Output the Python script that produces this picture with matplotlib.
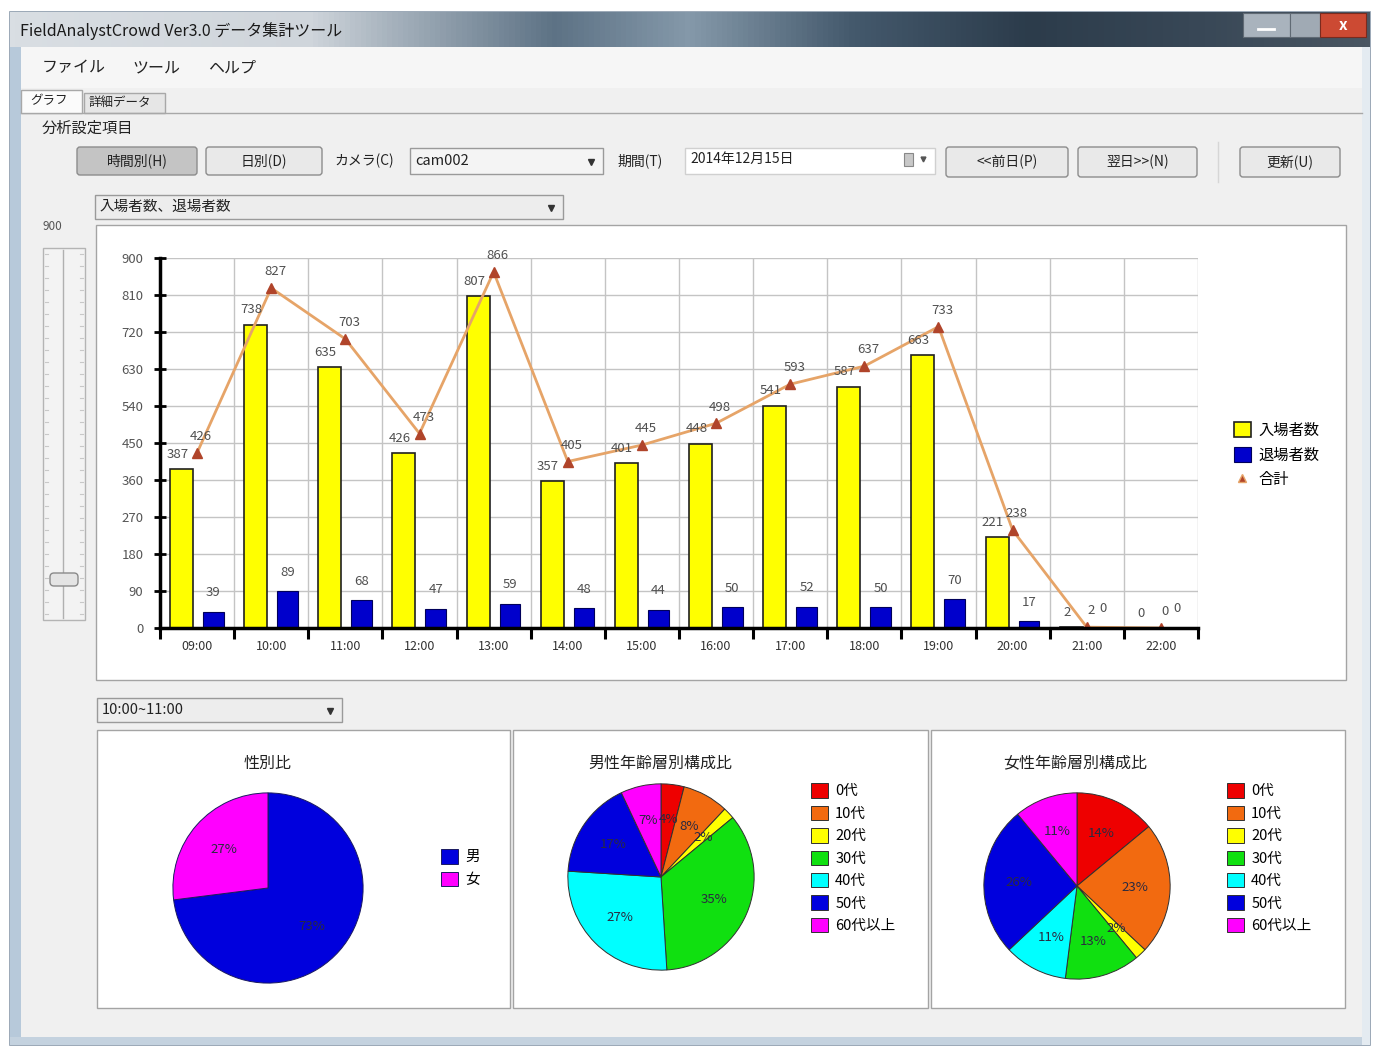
import numpy as np
import matplotlib.pyplot as plt
from matplotlib.patches import Rectangle, FancyBboxPatch
from matplotlib.lines import Line2D
from matplotlib.colors import LinearSegmentedColormap

plt.rcParams['font.family'] = ['Noto Sans CJK JP', 'DejaVu Sans']

# --- data ---
hours = ['09:00', '10:00', '11:00', '12:00', '13:00', '14:00', '15:00',
         '16:00', '17:00', '18:00', '19:00', '20:00', '21:00', '22:00']
entries = [387, 738, 635, 426, 807, 357, 401, 448, 541, 587, 663, 221, 2, 0]
exits = [39, 89, 68, 47, 59, 48, 44, 50, 52, 50, 70, 17, 0, 0]
totals = [426, 827, 703, 473, 866, 405, 445, 498, 593, 637, 733, 238, 2, 0]
y_ticks = [0, 90, 180, 270, 360, 450, 540, 630, 720, 810, 900]

gender_labels = ['男', '女']
gender_share = [73, 27]
gender_colors = ['#0000dd', '#ff00ff']

age_labels = ['0代', '10代', '20代', '30代', '40代', '50代', '60代以上']
male_age_share = [4, 8, 2, 35, 27, 17, 7]
female_age_share = [14, 23, 2, 13, 11, 26, 11]
age_colors = ['#ee0000', '#f26a10', '#ffff00', '#10e010', '#00ffff', '#0000dd', '#ff00ff']

W, H = 1377, 1047
fig = plt.figure(figsize=(W / 100, H / 100), dpi=100)
fig.patch.set_facecolor('white')

bg = fig.add_axes([0, 0, 1, 1])
bg.set_xlim(0, W)
bg.set_ylim(H, 0)
bg.axis('off')


def px_axes(x0, y0, x1, y1):
    return fig.add_axes([x0 / W, 1 - y1 / H, (x1 - x0) / W, (y1 - y0) / H])


def box(x0, y0, x1, y1, fc, ec, lw=1.0, z=1):
    bg.add_patch(Rectangle((x0, y0), x1 - x0, y1 - y0, facecolor=fc,
                           edgecolor=ec, linewidth=lw, zorder=z))


def button(x0, y0, x1, y1, text, fc='#e9e9e9'):
    bg.add_patch(FancyBboxPatch((x0, y0), x1 - x0, y1 - y0,
                                boxstyle='round,pad=0,rounding_size=3',
                                facecolor=fc, edgecolor='#8c8c8c', lw=1, zorder=2))
    bg.text((x0 + x1) / 2, (y0 + y1) / 2, text, fontsize=10, color='#222',
            ha='center', va='center', zorder=3)


def combo(x0, y0, x1, y1, text, fc='#ededed'):
    box(x0, y0, x1, y1, fc, '#9a9a9a', 1, 2)
    bg.text(x0 + 5, (y0 + y1) / 2, text, fontsize=10.5, color='#222',
            ha='left', va='center', zorder=3)
    bg.plot([x1 - 12], [(y0 + y1) / 2 + 1], marker='v', ms=4, color='#333', zorder=3)


# --- window frame ---
box(10, 12, 1370, 1045, '#f0f0f0', '#8a9aaa', 1.2, 0)
grad = LinearSegmentedColormap.from_list('aero', [
    (0.0, '#d9dee3'), (0.22, '#cfd5db'), (0.28, '#a6b2bd'), (0.4, '#5d7285'),
    (0.5, '#8599aa'), (0.62, '#44596c'), (0.75, '#2c3c4b'), (0.88, '#394857'),
    (1.0, '#4a5662')])
bg.imshow(np.linspace(0, 1, 256).reshape(1, -1), cmap=grad, aspect='auto',
          extent=(10, 1370, 47, 12), zorder=1)
bg.text(20, 31, 'FieldAnalystCrowd Ver3.0 データ集計ツール', fontsize=11.5,
        color='#1a1a1a', ha='left', va='center', zorder=2)
box(1243, 13, 1290, 37, '#a9b3bd', '#606a74', 0.8, 2)
box(1290, 13, 1320, 37, '#a0aab4', '#606a74', 0.8, 2)
box(1320, 13, 1366, 37, '#cc4a33', '#7a2a1e', 0.8, 2)
bg.plot([1258, 1274], [29, 29], color='white', lw=2, zorder=3)
bg.text(1343, 25, 'x', fontsize=11, color='white', ha='center', va='center',
        fontweight='bold', zorder=3)
box(10, 47, 21, 1045, '#b7c9da', '#b7c9da', 0, 1)
box(10, 1037, 1370, 1045, '#c4d2df', '#c4d2df', 0, 1)
box(1362, 47, 1370, 1045, '#e4ebf1', '#e4ebf1', 0, 1)

# menu bar
box(21, 47, 1362, 88, '#f6f6f6', '#f6f6f6', 0, 1)
for mx, mt in [(42, 'ファイル'), (132, 'ツール'), (208, 'ヘルプ')]:
    bg.text(mx, 68, mt, fontsize=11.5, color='#222', ha='left', va='center')

# tabs
bg.plot([21, 1362], [113, 113], color='#a8a8a8', lw=1)
box(21, 90, 82, 113, '#fbfbfb', '#a8a8a8', 1, 2)
box(84, 93, 165, 113, '#e6e6e6', '#a8a8a8', 1, 1)
bg.text(30, 101, 'グラフ', fontsize=9, color='#222', va='center')
bg.text(89, 103, '詳細データ', fontsize=9, color='#222', va='center')
bg.text(42, 128, '分析設定項目', fontsize=11, color='#222', va='center')

# control row
button(77, 147, 197, 175, '時間別(H)', fc='#c4c4c4')
button(206, 147, 322, 175, '日別(D)')
bg.text(334, 161, 'カメラ(C)', fontsize=10, color='#222', va='center')
combo(410, 148, 603, 174, 'cam002', fc='#f4f4f4')
bg.text(617, 161, '期間(T)', fontsize=10, color='#222', va='center')
box(685, 148, 935, 174, 'white', '#d0d0d0', 1, 2)
bg.text(690, 159, '2014年12月15日', fontsize=10, color='#222', va='center', zorder=3)
box(904, 153, 913, 166, '#c8c8c8', '#888', 0.8, 3)
bg.plot([923], [159], marker='v', ms=3.5, color='#555', zorder=3)
button(946, 147, 1068, 177, '<<前日(P)')
button(1078, 147, 1197, 177, '翌日>>(N)')
bg.plot([1218, 1218], [142, 182], color='#d6d6d6', lw=1)
button(1240, 147, 1340, 177, '更新(U)')

combo(95, 195, 563, 219, '入場者数、退場者数')
combo(97, 698, 342, 722, '10:00~11:00')

# slider on the left
bg.text(52, 226, '900', fontsize=8.5, color='#555', ha='center', va='center')
box(43, 248, 85, 620, '#f3f3f3', '#b4b4b4', 1, 1)
bg.plot([63, 63], [250, 618], color='#b0b0b0', lw=1)
for ty in np.linspace(254, 614, 31):
    bg.plot([45, 48], [ty, ty], color='#c8c8c8', lw=0.8)
    bg.plot([80, 83], [ty, ty], color='#c8c8c8', lw=0.8)
bg.add_patch(FancyBboxPatch((50, 573), 28, 13, boxstyle='round,pad=0,rounding_size=4',
                            facecolor='#e4e4e4', edgecolor='#8a8a8a', lw=1, zorder=3))

# --- bar / line chart ---
box(96, 225, 1346, 680, 'white', '#a4a4a4', 1, 1)
ax = px_axes(160, 258, 1198, 628)
ax.set_facecolor('white')
x = np.arange(len(hours))
ax.bar(x - 0.21, entries, 0.31, color='#ffff00', edgecolor='#202020', linewidth=1.2, zorder=3)
ax.bar(x + 0.22, exits, 0.28, color='#0000cc', edgecolor='#00005a', linewidth=0.8, zorder=3)
ax.plot(x, totals, color='#e6a468', lw=2, marker='^', ms=6.5, mfc='#b0442a',
        mec='#b0442a', zorder=4)
for i in range(len(hours)):
    ax.annotate(str(entries[i]), (x[i] - 0.21, entries[i]), xytext=(-3, 6),
                textcoords='offset points', ha='center', va='bottom',
                fontsize=9.5, color='#505050', zorder=5)
    ax.annotate(str(exits[i]), (x[i] + 0.22, exits[i]), xytext=(0, 9),
                textcoords='offset points', ha='center', va='bottom',
                fontsize=9.5, color='#505050', zorder=5)
    ax.annotate(str(totals[i]), (x[i], totals[i]), xytext=(3, 7),
                textcoords='offset points', ha='center', va='bottom',
                fontsize=9.5, color='#505050', zorder=5)

ax.set_xlim(-0.5, len(hours) - 0.5)
ax.set_ylim(0, 900)
ax.set_yticks(y_ticks)
ax.set_xticks(x)
ax.set_xticklabels(hours)
ax.set_xticks(np.arange(-0.5, len(hours), 1), minor=True)
ax.grid(axis='y', which='major', color='#c4c4c4', lw=1)
ax.grid(axis='x', which='minor', color='#c4c4c4', lw=1)
ax.set_axisbelow(True)
for s in ['top', 'right']:
    ax.spines[s].set_visible(False)
for s in ['left', 'bottom']:
    ax.spines[s].set_linewidth(2.5)
    ax.spines[s].set_color('black')
    ax.spines[s].set_zorder(6)
ax.tick_params(axis='x', which='major', length=0, pad=9, labelsize=9, labelcolor='#333')
ax.tick_params(axis='x', which='minor', length=8, width=2.2, direction='out', color='black')
ax.tick_params(axis='y', direction='inout', length=8, width=2, pad=8,
               labelsize=9.5, labelcolor='#555')

handles = [Rectangle((0, 0), 1, 1, facecolor='#ffff00', edgecolor='#202020', lw=1.2),
           Rectangle((0, 0), 1, 1, facecolor='#0000cc', edgecolor='#00005a', lw=0.8),
           Line2D([], [], ls='none', marker='^', ms=6, mfc='#b0442a', mec='#e6a468')]
ax.legend(handles, ['入場者数', '退場者数', '合計'], loc='upper left',
          bbox_to_anchor=(1220 / W, 1 - 408 / H), bbox_transform=fig.transFigure,
          frameon=False, fontsize=11, handlelength=1.1, handleheight=1.1,
          labelspacing=0.5, handletextpad=0.5)

# --- pie panels ---
box(97, 730, 510, 1008, 'white', '#a4a4a4', 1, 1)
box(513, 730, 928, 1008, 'white', '#a4a4a4', 1, 1)
box(931, 730, 1345, 1008, 'white', '#a4a4a4', 1, 1)


def draw_pie(cx, cy, r, values, colors, labels, title, title_x, leg_x, leg_y, edge):
    pax = px_axes(cx - r, cy - r, cx + r, cy + r)
    wedges, _, autotexts = pax.pie(
        values, colors=colors, startangle=90, counterclock=False,
        autopct=lambda p: f'{p:.0f}%', pctdistance=0.62,
        wedgeprops=dict(edgecolor=edge, linewidth=0.7),
        textprops=dict(fontsize=9.5, color='#2a2a40'))
    pax.set_xlim(-1.02, 1.02)
    pax.set_ylim(-1.02, 1.02)
    bg.text(title_x, 763, title, fontsize=11.5, color='#222', ha='center', va='center')
    pax.legend(wedges, labels, loc='upper left', bbox_to_anchor=(leg_x / W, 1 - leg_y / H),
               bbox_transform=fig.transFigure, frameon=False, fontsize=10.5,
               handlelength=1.15, handleheight=1.15, labelspacing=0.5, handletextpad=0.5)


draw_pie(268, 888, 97, gender_share, gender_colors, gender_labels, '性別比', 268,
         428, 836, '#1a1a60')
draw_pie(661, 877, 95, male_age_share, age_colors, age_labels, '男性年齢層別構成比', 660,
         798, 770, '#303030')
draw_pie(1077, 886, 95, female_age_share, age_colors, age_labels, '女性年齢層別構成比', 1075,
         1214, 770, '#303030')

fig.savefig('out.png', dpi=100, facecolor=fig.get_facecolor())
